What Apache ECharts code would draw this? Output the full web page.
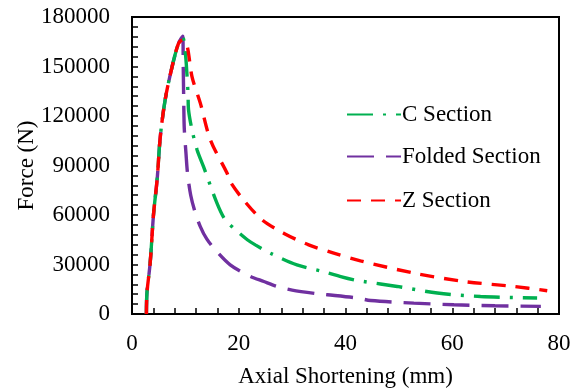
<!DOCTYPE html>
<html>
<head>
<meta charset="utf-8">
<script src="https://cdn.jsdelivr.net/npm/echarts@6/dist/echarts.min.js"></script>
<style>
  html, body { margin: 0; padding: 0; background: #fff; }
  #chart { width: 579px; height: 389px; }
</style>
</head>
<body>
<div id="chart"></div>
<script>
// shared loading branch (all three sections overlap here)
const riseX = [2.7, 2.8, 3.4, 4.05, 4.7, 5.3, 6.2, 7.5, 8.7];
const riseY = [0, 12700, 30800, 61100, 81200, 107400, 129600, 149700, 163900];

// C Section
const cX = [9.5, 10.0, 10.3, 10.5, 10.6, 11.25, 12.2, 13.4, 15.9, 17.4, 19.4, 21.6, 23.1, 25.9, 30.9, 36.2, 39.1, 41.6, 43.4, 49.7, 57.2, 65.3, 75.9];
const cY = [167500, 158000, 145000, 133000, 123500, 111500, 99400, 89300, 67300, 57400, 51000, 45000, 41900, 36900, 29800, 25400, 22700, 20700, 19700, 16700, 12700, 10600, 9700];

// Folded Section
const fX = [9.5, 9.6, 9.7, 9.8, 10.1, 10.4, 11.0, 11.8, 12.8, 14.0, 15.6, 18.4, 21.9, 24.7, 27.2, 30.0, 34.7, 36.6, 42.2, 44.7, 52.8, 60.3, 68.0, 76.6];
const fY = [168300, 150000, 127000, 112000, 98000, 85400, 72000, 62000, 53000, 45500, 38900, 29800, 23200, 19700, 16700, 14500, 12300, 11700, 9700, 8200, 6600, 5600, 5000, 4600];

// Z Section
const zX = [9.5, 10.3, 11.25, 12.8, 14.7, 17.8, 18.4, 20.9, 24.4, 28.4, 33.1, 37.8, 42.8, 52.8, 62.2, 71.6, 77.8];
const zY = [166000, 162900, 143700, 127800, 105400, 85400, 80200, 69100, 57000, 49000, 41900, 36900, 32200, 24800, 19700, 16700, 14100];

const xTicks = [0, 20, 40, 60, 80];
const yTicks = [0, 30000, 60000, 90000, 120000, 150000, 180000];

function pairs(xs, ys) {
  const head = riseX.map((x, i) => [x, riseY[i]]);
  return head.concat(xs.map((x, i) => [x, ys[i]]));
}

const font = 'Liberation Serif, Times New Roman, serif';
const chart = echarts.init(document.getElementById('chart'));

const legendBase = {
  orient: 'vertical',
  left: 341,
  itemWidth: 54,
  itemHeight: 14,
  itemGap: 10,
  itemStyle: { opacity: 0 },
  textStyle: { fontFamily: font, fontSize: 23, color: '#000', lineHeight: 23, padding: [0, 0, 0, -4] }
};

chart.setOption({
  animation: false,
  textStyle: { fontFamily: font },
  grid: {
    left: 132, right: 20, top: 17, bottom: 75,
    outerBoundsMode: 'none', containLabel: false,
    show: true, borderColor: '#000', borderWidth: 2
  },
  legend: [
    Object.assign({ top: 98, data: ['C Section'] }, legendBase),
    Object.assign({ top: 140, data: ['Folded Section'] }, legendBase),
    Object.assign({ top: 184, data: ['Z Section'] }, legendBase)
  ],
  xAxis: {
    type: 'value',
    min: xTicks[0], max: xTicks[xTicks.length - 1], interval: 20,
    name: 'Axial Shortening (mm)',
    nameLocation: 'middle', nameGap: 51, nameMoveOverlap: false,
    nameTextStyle: { fontFamily: font, fontSize: 23, color: '#000' },
    axisLine: { lineStyle: { color: '#000', width: 2 } },
    axisTick: { inside: true, length: 6, lineStyle: { color: '#000', width: 1.5 } },
    minorTick: { show: true, splitNumber: 5, length: 6, lineStyle: { color: '#000', width: 1.5 } },
    axisLabel: { fontFamily: font, fontSize: 23, color: '#000', margin: 18 },
    splitLine: { show: false }
  },
  yAxis: {
    type: 'value',
    min: yTicks[0], max: yTicks[yTicks.length - 1], interval: 30000,
    name: 'Force (N)',
    nameLocation: 'middle', nameGap: 94, nameMoveOverlap: false,
    nameTextStyle: { fontFamily: font, fontSize: 23, color: '#000' },
    axisLine: { show: true, lineStyle: { color: '#000', width: 2 } },
    axisTick: { show: true, inside: true, length: 6, lineStyle: { color: '#000', width: 1.5 } },
    minorTick: { show: true, splitNumber: 5, length: 6, lineStyle: { color: '#000', width: 1.5 } },
    axisLabel: { fontFamily: font, fontSize: 23, color: '#000', margin: 22, formatter: v => String(v) },
    splitLine: { show: false }
  },
  series: [
    {
      name: 'C Section', type: 'line', data: pairs(cX, cY),
      smooth: 0.3, symbol: 'none', z: 3,
      lineStyle: { color: '#00B050', width: 3.4, type: [26, 10, 3, 10] },
      itemStyle: { color: '#00B050' }
    },
    {
      name: 'Folded Section', type: 'line', data: pairs(fX, fY),
      smooth: 0.3, symbol: 'none', z: 2,
      lineStyle: { color: '#7030A0', width: 3.4, type: [27, 12] },
      itemStyle: { color: '#7030A0' }
    },
    {
      name: 'Z Section', type: 'line', data: pairs(zX, zY),
      smooth: 0.3, symbol: 'none', z: 4,
      lineStyle: { color: '#FF0000', width: 3.4, type: [14, 10] },
      itemStyle: { color: '#FF0000' }
    }
  ]
});
</script>
</body>
</html>
